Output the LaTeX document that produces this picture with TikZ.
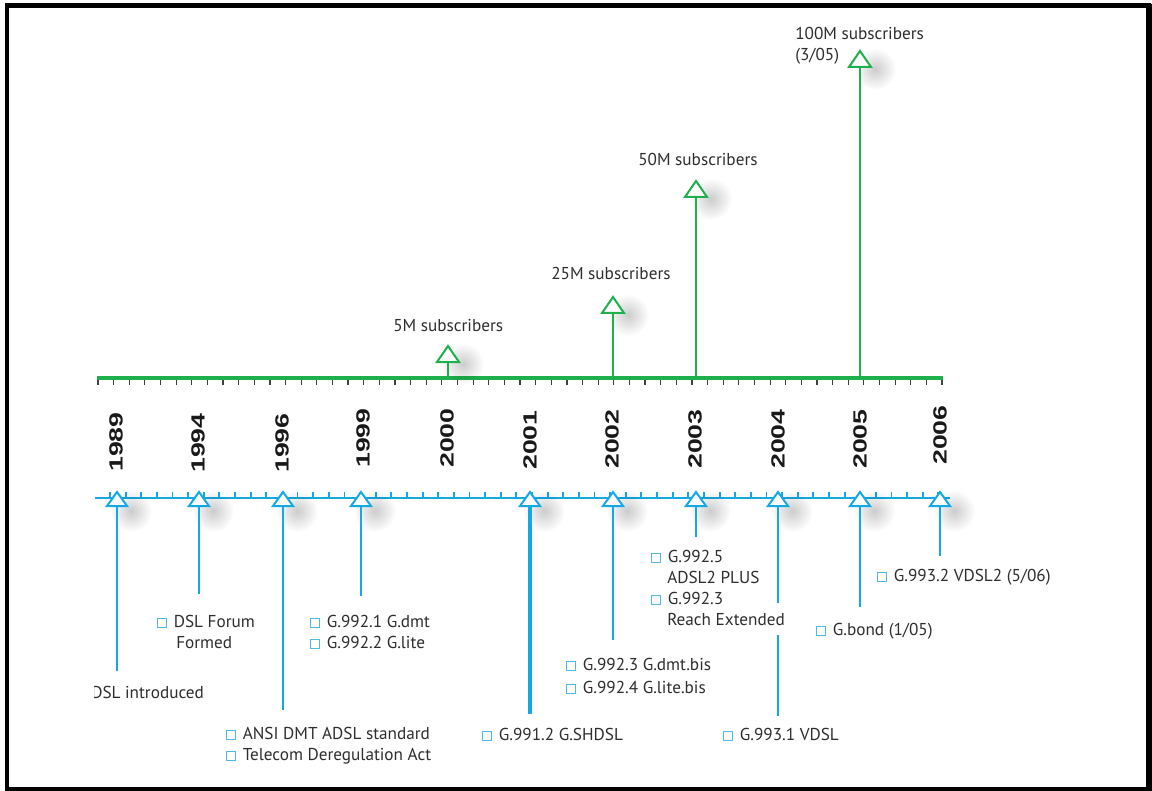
\documentclass[tikz,border=0pt]{standalone}
\usepackage{fontspec}
\setmainfont{PT Sans}
\newfontfamily\yearfont{Liberation Sans}
\usetikzlibrary{fadings}
\definecolor{gr}{HTML}{1DB04D}
\definecolor{bl}{HTML}{14A9E3}
\definecolor{tx}{HTML}{2E2E2E}
\definecolor{bxc}{HTML}{4FB8EA}
\tikzfading[name=softfade, inner color=transparent!0, outer color=transparent!100]
\newcommand\chkbox{{\color{bxc}\setlength{\fboxsep}{0pt}\setlength{\fboxrule}{0.8pt}\fbox{\rule{0pt}{5.8pt}\hspace{5.8pt}}}\hspace{5pt}}
\newcommand\yr[1]{\scalebox{1.4}[1]{#1}}
\begin{document}
\begin{tikzpicture}[x=0.75pt,y=-0.75pt,
  lbl/.style={font=\fontsize{12.9}{15}\selectfont, text=tx, inner sep=0pt, anchor=base west},
  yrlbl/.style={font=\yearfont\bfseries\fontsize{14.3}{14}\selectfont, rotate=90, inner sep=0pt, text=black!90},
  gtri/.style={draw=gr, fill=white, line width=1.5pt, line join=miter},
  btri/.style={draw=bl, fill=white, line width=1.5pt, line join=miter},
  gstem/.style={draw=gr, line width=2.2pt},
  bstem/.style={draw=bl, line width=2.2pt},
  shad/.style={fill=black, opacity=0.2, path fading=softfade},
  tick/.style={draw=black!75, line width=0.9pt}]
\useasboundingbox (0,0) rectangle (1152,791);
\fill[white] (0,0) rectangle (1152,791);
% frame
\draw[line width=3.2pt, black] (7,5.5) rectangle (1149,789);
\fill[black] (1146,4) rectangle (1152,791);

% ---------- green (subscribers) axis ----------
\coordinate (gl) at (97,378);
\coordinate (gr) at (943,378);
\foreach \k in {0,...,54} {\draw[tick] (98+\k*15.63,379) -- (98+\k*15.63,385);}
\draw[gstem, line width=2.4pt] (gl) -- (gr);

% triangles (base midpoints)
\coordinate (g2000) at (448,362);
\coordinate (g2002) at (613,313);
\coordinate (g2003) at (696,197);
\coordinate (g2005) at (860,67);
\coordinate (ga2000) at (448,378);
\coordinate (ga2002) at (613,378);
\coordinate (ga2003) at (696,378);
\coordinate (ga2005) at (860,378);
\foreach \p in {g2000,g2002,g2003,g2005} {
  \fill[shad] ([shift={(15,2)}]\p) circle (21);
}
\foreach \p in {2000,2002,2003,2005} {
  \draw[gstem] (ga\p) -- (g\p);
  \draw[gtri] ([shift={(-11,0)}]g\p) -- ([shift={(11,0)}]g\p) -- ([shift={(0,-16)}]g\p) -- cycle;
}
\node[lbl] (s5) at (393,331) {5M subscribers};
\node[lbl] (s25) at (551,280) {25M subscribers};
\node[lbl] (s50) at (638,166) {50M subscribers};
\node[lbl] (s100a) at (795,40) {100M subscribers};
\node[lbl] (s100b) at (795,61) {(3/05)};

% ---------- years ----------
\node[yrlbl] (y1989) at (116,442) {\yr{1989}};
\node[yrlbl] (y1994) at (198,443) {\yr{1994}};
\node[yrlbl] (y1996) at (282,443) {\yr{1996}};
\node[yrlbl] (y1999) at (363,438) {\yr{1999}};
\node[yrlbl] (y2000) at (447,438) {\yr{2000}};
\node[yrlbl] (y2001) at (530,440) {\yr{2001}};
\node[yrlbl] (y2002) at (612,439) {\yr{2002}};
\node[yrlbl] (y2003) at (695,439) {\yr{2003}};
\node[yrlbl] (y2004) at (778,439) {\yr{2004}};
\node[yrlbl] (y2005) at (860,439) {\yr{2005}};
\node[yrlbl] (y2006) at (940,435) {\yr{2006}};

% ---------- blue (standards) axis ----------
\coordinate (bl0) at (95,498);
\coordinate (bl1) at (950,498);
\foreach \k in {0,...,53} {\draw[bl, line width=1.4pt] (110+\k*15.63,498) -- (110+\k*15.63,492);}
\draw[bl, line width=1.6pt] (bl0) -- (bl1);

\foreach \x/\e in {1989/117, 1994/199, 1996/283, 1999/361, 2001/530, 2002/613, 2003/696, 2004/778, 2005/860, 2006/940} {
  \coordinate (b\x) at (\e,506);
  \fill[shad] (\e+14,511) circle (21);
}
\coordinate (e1989) at (117,671);
\coordinate (e1994) at (199,594);
\coordinate (e1996) at (283,710);
\coordinate (e1999) at (361,596);
\coordinate (e2001) at (530,714);
\coordinate (e2002) at (613,640);
\coordinate (e2003) at (696,537);
\coordinate (e2004) at (778,603);
\coordinate (f2004) at (778,635);
\coordinate (h2004) at (778,716);
\coordinate (e2005) at (860,607);
\coordinate (e2006) at (940,556);
\foreach \x in {1989,1994,1996,1999,2002,2003,2004,2005,2006} {
  \draw[bstem] (b\x) -- (e\x);
}
\draw[bstem, line width=2.6pt] (b2001) -- (e2001);
\draw[bstem] (f2004) -- (h2004);
\foreach \x in {1989,1994,1996,1999,2001,2002,2003,2004,2005,2006} {
  \draw[btri] ([shift={(-10,0)}]b\x) -- ([shift={(10,0)}]b\x) -- ([shift={(0,-14)}]b\x) -- cycle;
}

% ---------- labels ----------
\begin{scope}
\clip (94,600) rectangle (300,720);
\node[lbl] (t1989) at (91,698) {DSL introduced};
\end{scope}
\node[lbl] (t1994a) at (157,627) {\chkbox DSL Forum};
\node[lbl] (t1994b) at (176,648) {Formed};
\node[lbl] (t1996a) at (226,739) {\chkbox ANSI DMT ADSL standard};
\node[lbl] (t1996b) at (226,760) {\chkbox Telecom Deregulation Act};
\node[lbl] (t1999a) at (310,627) {\chkbox G.992.1 G.dmt};
\node[lbl] (t1999b) at (310,648) {\chkbox G.992.2 G.lite};
\node[lbl] (t2001) at (482,740) {\chkbox G.991.2 G.SHDSL};
\node[lbl] (t2002a) at (566,670) {\chkbox G.992.3 G.dmt.bis};
\node[lbl] (t2002b) at (566,693) {\chkbox G.992.4 G.lite.bis};
\node[lbl] (t2003a) at (651,562) {\chkbox G.992.5};
\node[lbl] (t2003b) at (667,583) {ADSL2 PLUS};
\node[lbl] (t2003c) at (651,604) {\chkbox G.992.3};
\node[lbl] (t2003d) at (667,625) {Reach Extended};
\node[lbl] (t2004) at (723,740) {\chkbox G.993.1 VDSL};
\node[lbl] (t2005) at (816,635) {\chkbox G.bond (1/05)};
\node[lbl] (t2006) at (877,581) {\chkbox G.993.2 VDSL2 (5/06)};
\end{tikzpicture}
\end{document}
